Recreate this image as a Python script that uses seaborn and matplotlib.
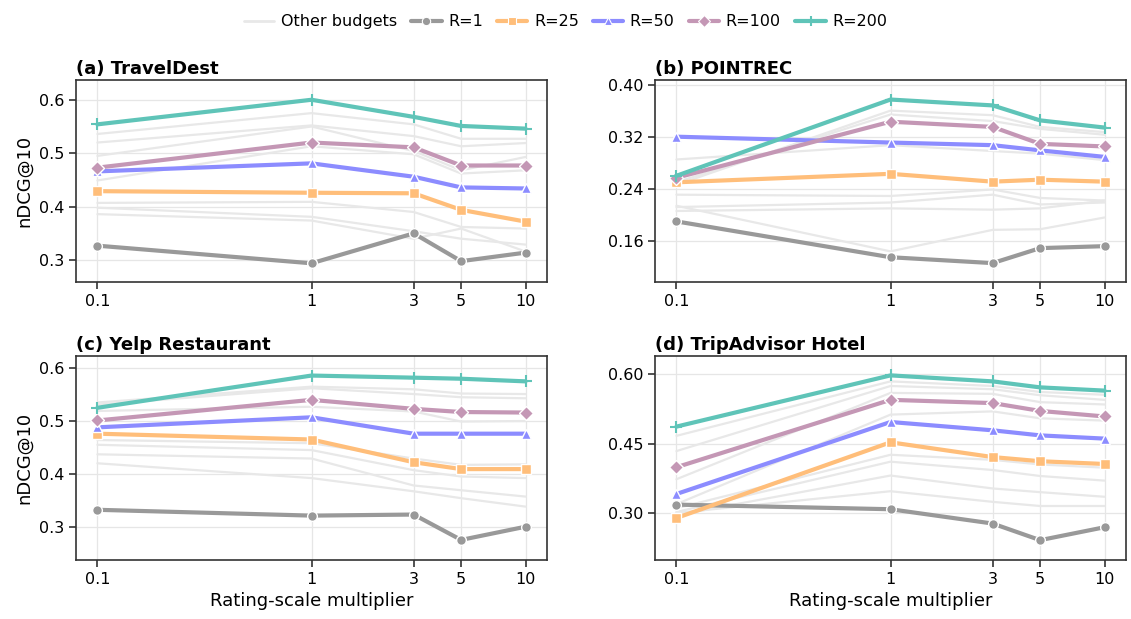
import numpy as np
import pandas as pd
import matplotlib
matplotlib.use("Agg")
import matplotlib.pyplot as plt
from matplotlib.lines import Line2D
import seaborn as sns

# ---------------- data ----------------
multipliers = [0.1, 1, 3, 5, 10]
tick_labels = ["0.1", "1", "3", "5", "10"]
budgets = ["R=1", "R=25", "R=50", "R=100", "R=200"]
titles = ["(a) TravelDest", "(b) POINTREC", "(c) Yelp Restaurant", "(d) TripAdvisor Hotel"]

travel_main = {
    "R=1":   [0.327, 0.294, 0.350, 0.298, 0.314],
    "R=25":  [0.429, 0.426, 0.425, 0.394, 0.372],
    "R=50":  [0.466, 0.481, 0.456, 0.436, 0.434],
    "R=100": [0.473, 0.520, 0.511, 0.477, 0.477],
    "R=200": [0.554, 0.600, 0.568, 0.551, 0.546],
}
travel_other = [
    [0.536, 0.575, 0.554, 0.527, 0.527],
    [0.520, 0.552, 0.532, 0.513, 0.519],
    [0.495, 0.550, 0.504, 0.468, 0.493],
    [0.449, 0.513, 0.498, 0.462, 0.468],
    [0.407, 0.409, 0.390, 0.362, 0.359],
    [0.398, 0.381, 0.354, 0.340, 0.329],
    [0.386, 0.374, 0.340, 0.359, 0.316],
]

pointrec_main = {
    "R=1":   [0.190, 0.135, 0.126, 0.149, 0.152],
    "R=25":  [0.250, 0.263, 0.251, 0.254, 0.251],
    "R=50":  [0.320, 0.311, 0.307, 0.299, 0.289],
    "R=100": [0.257, 0.343, 0.335, 0.309, 0.305],
    "R=200": [0.260, 0.377, 0.368, 0.345, 0.334],
}
pointrec_other = [
    [0.246, 0.360, 0.353, 0.335, 0.327],
    [0.250, 0.354, 0.344, 0.332, 0.323],
    [0.285, 0.307, 0.298, 0.294, 0.284],
    [0.231, 0.229, 0.239, 0.226, 0.222],
    [0.212, 0.219, 0.231, 0.216, 0.219],
    [0.206, 0.210, 0.208, 0.210, 0.222],
    [0.214, 0.144, 0.177, 0.178, 0.196],
]

yelp_main = {
    "R=1":   [0.332, 0.321, 0.323, 0.275, 0.300],
    "R=25":  [0.476, 0.465, 0.422, 0.409, 0.409],
    "R=50":  [0.488, 0.507, 0.476, 0.476, 0.476],
    "R=100": [0.501, 0.540, 0.523, 0.517, 0.516],
    "R=200": [0.525, 0.586, 0.582, 0.580, 0.575],
}
yelp_other = [
    [0.535, 0.565, 0.560, 0.552, 0.551],
    [0.531, 0.562, 0.551, 0.545, 0.543],
    [0.519, 0.527, 0.518, 0.499, 0.500],
    [0.464, 0.458, 0.429, 0.417, 0.418],
    [0.455, 0.445, 0.407, 0.395, 0.392],
    [0.437, 0.429, 0.378, 0.369, 0.357],
    [0.420, 0.392, 0.367, 0.354, 0.338],
]

trip_main = {
    "R=1":   [0.318, 0.308, 0.277, 0.241, 0.269],
    "R=25":  [0.289, 0.453, 0.421, 0.412, 0.406],
    "R=50":  [0.341, 0.497, 0.479, 0.468, 0.461],
    "R=100": [0.399, 0.545, 0.538, 0.521, 0.509],
    "R=200": [0.487, 0.598, 0.585, 0.572, 0.565],
}
trip_other = [
    [0.467, 0.585, 0.575, 0.562, 0.556],
    [0.434, 0.575, 0.568, 0.555, 0.545],
    [0.373, 0.560, 0.558, 0.540, 0.535],
    [0.319, 0.513, 0.520, 0.505, 0.500],
    [0.310, 0.426, 0.415, 0.405, 0.398],
    [0.302, 0.411, 0.393, 0.380, 0.370],
    [0.295, 0.381, 0.353, 0.345, 0.335],
    [0.300, 0.347, 0.324, 0.315, 0.315],
]

yticks_list = [
    [0.3, 0.4, 0.5, 0.6],
    [0.16, 0.24, 0.32, 0.40],
    [0.3, 0.4, 0.5, 0.6],
    [0.30, 0.45, 0.60],
]
ytick_fmt = ["{:.1f}", "{:.2f}", "{:.1f}", "{:.2f}"]
ylims = [(0.259, 0.637), (0.097, 0.407), (0.237, 0.623), (0.198, 0.640)]

# ---------------- style ----------------
sns.set_theme(style="whitegrid")
plt.rcParams["font.family"] = ["DejaVu Sans"]
plt.rcParams["text.color"] = "black"
plt.rcParams["axes.labelcolor"] = "black"
plt.rcParams["xtick.color"] = "black"
plt.rcParams["ytick.color"] = "black"

colors = {"R=1": "#999999", "R=25": "#FFBE7A", "R=50": "#8C8CFF",
          "R=100": "#C497B5", "R=200": "#5FC4B8"}
markers = {"R=1": "o", "R=25": "s", "R=50": "^", "R=100": "D", "R=200": "+"}
msizes = {"R=1": 7, "R=25": 7, "R=50": 7, "R=100": 7, "R=200": 8}
other_color = "#E8E8E8"

fig = plt.figure(figsize=(11.31, 6.19), dpi=100)
W, H = 1131, 619
boxes = [(76, 80, 547, 282), (655, 80, 1126, 282),
         (76, 356, 547, 560), (655, 356, 1126, 560)]

mains = [travel_main, pointrec_main, yelp_main, trip_main]
others = [travel_other, pointrec_other, yelp_other, trip_other]

for i in range(4):
    l, t, r, b = boxes[i]
    ax = fig.add_axes([l / W, 1 - b / H, (r - l) / W, (b - t) / H])
    ax.set_xscale("log")
    for vals in others[i]:
        sns.lineplot(x=multipliers, y=vals, ax=ax, color=other_color, lw=1.6,
                     zorder=2, legend=False)
    for name in budgets:
        m = markers[name]
        if m == "+":
            sns.lineplot(x=multipliers, y=mains[i][name], ax=ax, color=colors[name],
                         lw=3, marker="+", markersize=8, markeredgewidth=1.5,
                         markeredgecolor=colors[name],
                         zorder=3, legend=False)
        else:
            sns.lineplot(x=multipliers, y=mains[i][name], ax=ax, color=colors[name],
                         lw=3, marker=m, markersize=msizes[name],
                         markeredgecolor="white", markeredgewidth=1.0,
                         zorder=3, legend=False)
    ax.set_xlim(0.1 * 10 ** -0.1, 10 * 10 ** 0.1)
    ax.set_ylim(*ylims[i])
    ax.set_xticks(multipliers)
    ax.set_xticklabels(tick_labels)
    ax.xaxis.set_minor_locator(matplotlib.ticker.NullLocator())
    ax.set_yticks(yticks_list[i])
    ax.set_yticklabels([ytick_fmt[i].format(v) for v in yticks_list[i]])
    ax.tick_params(axis="both", labelsize=11.5, length=5, width=1.1,
                   color="#222222", direction="out", bottom=True, left=True)
    ax.grid(True, color="#E6E6E6", lw=0.9)
    for sp in ax.spines.values():
        sp.set_color("#333333")
        sp.set_linewidth(1.2)
    ax.set_title(titles[i], loc="left", fontsize=13, fontweight="bold", pad=4)
    ax.set_xlabel("Rating-scale multiplier" if i >= 2 else "", fontsize=13)
    ax.set_ylabel("nDCG@10" if i % 2 == 0 else "", fontsize=13)

handles = [Line2D([0], [0], color=other_color, lw=2, label="Other budgets")]
for name in budgets:
    m = markers[name]
    if m == "+":
        handles.append(Line2D([0], [0], color=colors[name], lw=3, marker="+",
                              markersize=7, markeredgewidth=1.5, label=name))
    else:
        handles.append(Line2D([0], [0], color=colors[name], lw=3, marker=m,
                              markersize=6, markeredgecolor="white",
                              markeredgewidth=0.8, label=name))
fig.legend(handles=handles, loc="upper center", ncol=6, frameon=False,
           fontsize=11.5, bbox_to_anchor=(0.5, 1.0), handlelength=1.9,
           columnspacing=0.9, handletextpad=0.4)

fig.savefig("out.png", dpi=100)
